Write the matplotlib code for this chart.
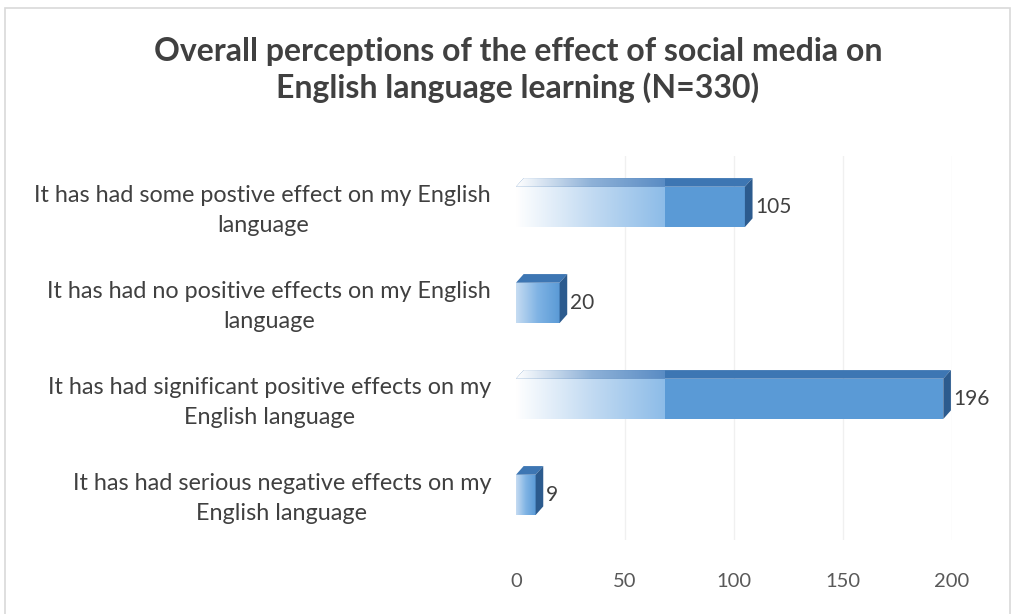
import numpy as np
import matplotlib
matplotlib.use("Agg")
import matplotlib.pyplot as plt
from matplotlib.patches import Polygon, Rectangle
from matplotlib.colors import LinearSegmentedColormap

categories = [
    "It has had serious negative effects on my\nEnglish language",
    "It has had significant positive effects on my\nEnglish language",
    "It has had no positive effects on my English\nlanguage",
    "It has had some postive effect on my English\nlanguage",
]
values = [9, 196, 20, 105]
ticks = [0, 50, 100, 150, 200]
title = "Overall perceptions of the effect of social media on\nEnglish language learning (N=330)"

FONT = "Lato"
plt.rcParams['font.family'] = [FONT, 'DejaVu Sans']

fig = plt.figure(figsize=(10.13, 6.14), dpi=100)
fig.patches.append(Rectangle((5/1013, -0.05), 1 - 8/1013, 1.05 - 8/614, transform=fig.transFigure,
                             fill=False, edgecolor='#d9d9d9', linewidth=1.2))
ax = fig.add_axes([516/1013, 1 - 540/614, 436/1013, 384/614])
ax.set_xlim(0, 200)
ax.set_ylim(-0.5, 3.5)

for s in ax.spines.values():
    s.set_visible(False)
ax.set_xticks(ticks)
ax.set_xticklabels([str(t) for t in ticks], fontsize=14.5, color='#595959')
ax.tick_params(axis='x', length=0, pad=24)
ax.set_yticks(range(len(categories)))
ax.set_yticklabels(categories, fontsize=16.8, color='#404040', multialignment='center', linespacing=1.5)
ax.tick_params(axis='y', length=0, pad=18)
for t in ticks[1:]:
    ax.axvline(t, color='#f0f0f0', lw=1, zorder=0)

big_front = LinearSegmentedColormap.from_list('f', [(0, '#ffffff'), (0.5, '#c3dbf2'), (1, '#8dbce8')])
big_top = LinearSegmentedColormap.from_list('t', [(0, '#ffffff'), (0.5, '#8fb2d8'), (1, '#5a8cc4')])
small_front = LinearSegmentedColormap.from_list('sf', [(0, '#c6dcf2'), (0.5, '#7fb3e4'), (1, '#5a9ad6')])
grad = np.linspace(0, 1, 256).reshape(1, -1)

G = 68      # extent of the faded region on long bars (data units)
h = 0.42
dx = 3.5
dy = 0.09
for i, v in enumerate(values):
    y0 = i - h / 2 - 0.03
    y1 = i + h / 2 - 0.03
    ax.add_patch(Rectangle((0, y0), v, y1 - y0, facecolor='#5a9ad6', edgecolor='none', zorder=2))
    top_pts = [(0, y1), (v, y1), (v + dx, y1 + dy), (dx, y1 + dy)]
    ax.add_patch(Polygon(top_pts, closed=True, facecolor='#3d76b3', edgecolor='none', zorder=2))
    front = Rectangle((0, y0), v, y1 - y0, transform=ax.transData)
    top = Polygon(top_pts, closed=True, transform=ax.transData)
    if v >= G:
        im = ax.imshow(grad, aspect='auto', cmap=big_front, extent=(0, G, y0, y1), zorder=3)
        im.set_clip_path(front)
        im2 = ax.imshow(grad, aspect='auto', cmap=big_top, extent=(0, G, y1, y1 + dy), zorder=3)
        im2.set_clip_path(top)
    else:
        im = ax.imshow(grad, aspect='auto', cmap=small_front, extent=(0, v, y0, y1), zorder=3)
        im.set_clip_path(front)
    ax.add_patch(Polygon([(v, y0), (v + dx, y0 + dy), (v + dx, y1 + dy), (v, y1)], closed=True,
                         facecolor='#2c5b8e', edgecolor='none', zorder=4))
    ax.text(v + dx + 1.2, i - 0.03, str(v), va='center', ha='left', fontsize=15, color='#404040', zorder=5)

fig.text(518/1013, 1 - 70/614, title, ha='center', va='center', fontsize=23, fontweight='bold',
         color='#404040', linespacing=1.25)

fig.savefig("out.png", dpi=100)
